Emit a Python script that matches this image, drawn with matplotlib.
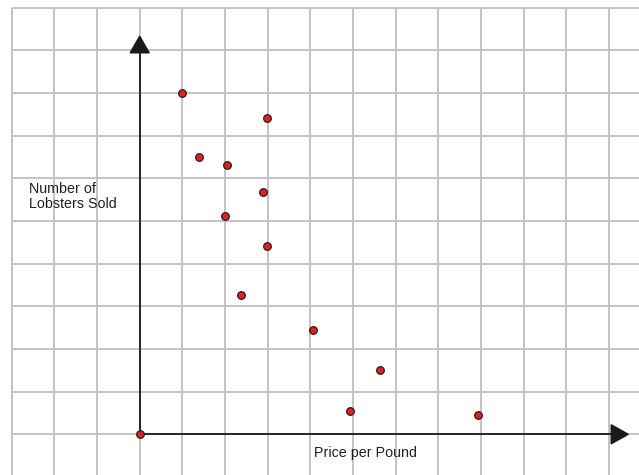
import matplotlib
matplotlib.use("Agg")
import matplotlib.pyplot as plt
from matplotlib.patches import Polygon

# Data (in grid units)
price = [0.0, 0.99, 2.99, 1.38, 2.05, 2.89, 1.99, 2.98, 2.38, 4.05, 5.64, 4.94, 7.93]
sold = [0.0, 8.0, 7.42, 6.5, 6.31, 5.69, 5.12, 4.42, 3.27, 2.44, 1.5, 0.54, 0.45]
x_label = "Price per Pound"
y_label = "Number of\nLobsters Sold"
grid_x = list(range(-3, 12))
grid_y = list(range(0, 11))

W, H = 639, 475
fig = plt.figure(figsize=(W / 100, H / 100), dpi=100)
ax = fig.add_axes([0, 0, 1, 1])
unit = 42.67
ox, oy = 139.7, 434.3
ax.set_xlim(-ox / unit, (W - ox) / unit)
ax.set_ylim((oy - H) / unit, oy / unit)
ax.axis("off")

ymin = (oy - H) / unit
xmax = (W - ox) / unit
gc = "#c3c3c3"
for gx in grid_x:
    ax.plot([gx, gx], [ymin, 10], color=gc, lw=1.4, zorder=1, solid_capstyle="butt")
for gy in grid_y:
    ax.plot([-3, xmax], [gy, gy], color=gc, lw=1.4, zorder=1, solid_capstyle="butt")

# axes lines
ax.plot([0, 0], [0, 9.0], color="#1a1a1a", lw=1.3, zorder=2)
ax.plot([0, 11.1], [0, 0], color="#1a1a1a", lw=1.3, zorder=2)
hw = 9.5 / unit
ax.add_patch(Polygon([[0, 9.33], [-hw, 8.94], [hw, 8.94]], closed=True,
                     color="#1a1a1a", zorder=3))
ax.add_patch(Polygon([[11.45, 0], [11.05, hw], [11.05, -hw]], closed=True,
                     color="#1a1a1a", zorder=3))

ax.scatter(price, sold, s=30, color="#e3211c", edgecolors="#2a1a1a",
           linewidths=0.9, zorder=5)

ax.text((29.3 - ox) / unit, (oy - 196.5) / unit, y_label, ha="left", va="center",
        fontsize=10.3, family="Liberation Sans", color="#231f20", linespacing=1.1)
ax.text((365.5 - ox) / unit, (oy - 452.5) / unit, x_label, ha="center", va="center",
        fontsize=10.3, family="Liberation Sans", color="#231f20")

fig.savefig("out.png", dpi=100, facecolor="white")
